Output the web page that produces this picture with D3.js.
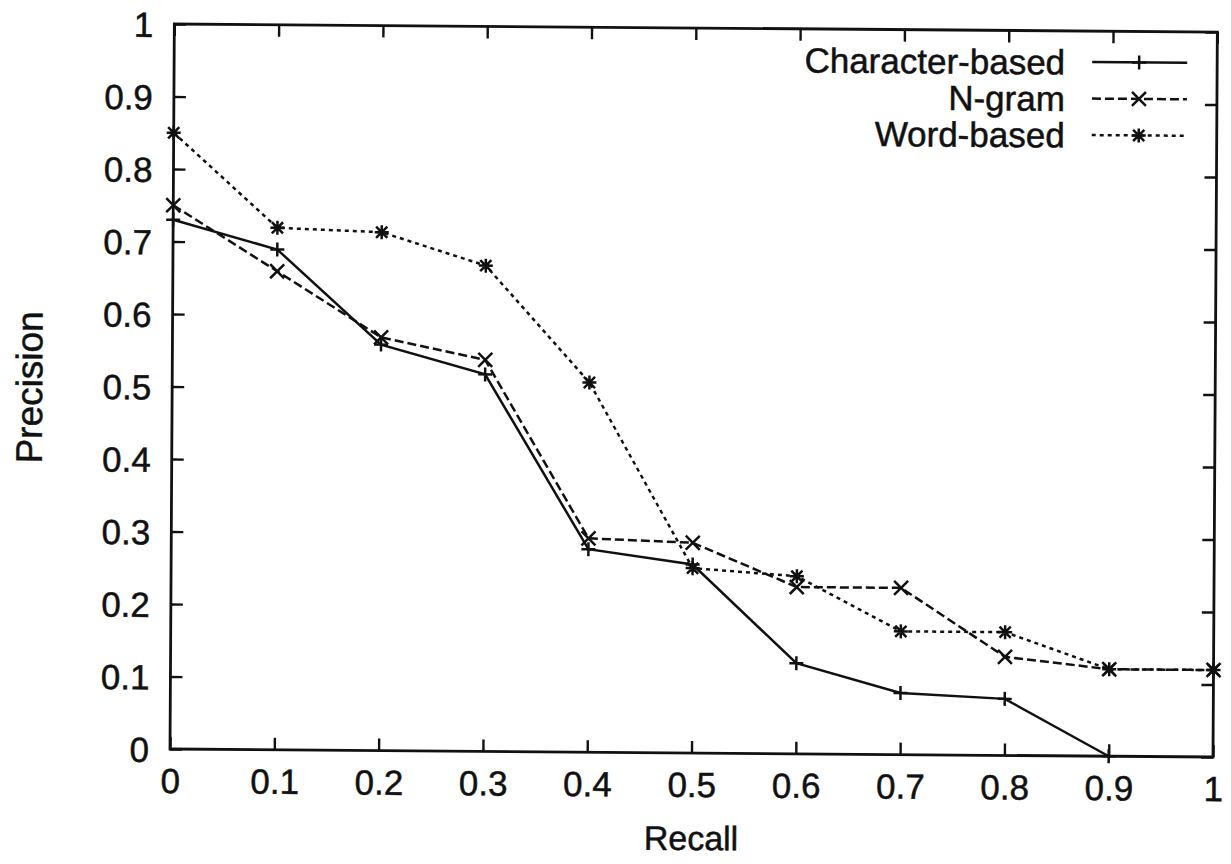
<!DOCTYPE html>
<html>
<head>
<meta charset="utf-8">
<script src="https://cdn.jsdelivr.net/npm/d3@7"></script>
<style>
  html, body { margin: 0; padding: 0; background: #fff; }
  svg { display: block; }
  text { font-family: "Liberation Sans", Arial, Helvetica, sans-serif; fill: #111; stroke: #111; stroke-width: 0.5px; }
</style>
</head>
<body>
<svg id="chart" width="1231" height="864"></svg>
<script>
// ---- data ----
const recall = [0, 0.1, 0.2, 0.3, 0.4, 0.5, 0.6, 0.7, 0.8, 0.9, 1.0];
const characterBased = [0.73, 0.69, 0.56, 0.52, 0.28, 0.26, 0.125, 0.085, 0.078, 0.0];
const nGram = [0.75, 0.66, 0.57, 0.54, 0.295, 0.29, 0.23, 0.23, 0.136, 0.12, 0.12];
const wordBased = [0.85, 0.72, 0.715, 0.67, 0.51, 0.255, 0.245, 0.17, 0.17, 0.12, 0.12];
const seriesNames = ["Character-based", "N-gram", "Word-based"];
const xTicks = [0, 0.1, 0.2, 0.3, 0.4, 0.5, 0.6, 0.7, 0.8, 0.9, 1];
const yTicks = [0, 0.1, 0.2, 0.3, 0.4, 0.5, 0.6, 0.7, 0.8, 0.9, 1];
const xTickLabels = ["0", "0.1", "0.2", "0.3", "0.4", "0.5", "0.6", "0.7", "0.8", "0.9", "1"];
const yTickLabels = ["0", "0.1", "0.2", "0.3", "0.4", "0.5", "0.6", "0.7", "0.8", "0.9", "1"];

const W = 1043, H = 725;
const svg = d3.select("#chart");
// slight skew of the scanned figure
const root = svg.append("g")
  .attr("transform", "matrix(1,0.0077,-0.006,1,170,749) translate(0,-725)");

const x = d3.scaleLinear().domain([0, 1]).range([0, W]);
const y = d3.scaleLinear().domain([0, 1]).range([H, 0]);

const ink = "#111";
const tickLen = 12;

// axes (inward ticks, mirrored)
const axBottom = root.append("g").attr("transform", `translate(0,${H})`)
  .call(d3.axisBottom(x).tickValues(xTicks).tickSize(-tickLen).tickPadding(0)
    .tickFormat((d, i) => xTickLabels[i]));
const axTop = root.append("g")
  .call(d3.axisTop(x).tickValues(xTicks).tickSize(-tickLen).tickFormat(""));
const axLeft = root.append("g")
  .call(d3.axisLeft(y).tickValues(yTicks).tickSize(-tickLen).tickPadding(0)
    .tickFormat((d, i) => yTickLabels[i]));
const axRight = root.append("g").attr("transform", `translate(${W},0)`)
  .call(d3.axisRight(y).tickValues(yTicks).tickSize(-tickLen).tickFormat(""));

[axBottom, axTop, axLeft, axRight].forEach(a => {
  a.select(".domain").remove();
  a.selectAll(".tick line").attr("stroke", ink).attr("stroke-width", 2.4);
});
axBottom.selectAll(".tick text")
  .attr("font-size", 35).attr("dy", null).attr("y", 44)
  .attr("font-family", "Liberation Sans, Arial, sans-serif").attr("fill", ink);
axLeft.selectAll(".tick text")
  .attr("font-size", 35).attr("x", -21).attr("dy", "0.36em")
  .attr("font-family", "Liberation Sans, Arial, sans-serif").attr("fill", ink);

// frame
root.append("rect").attr("x", 0).attr("y", 0).attr("width", W).attr("height", H)
  .attr("fill", "none").attr("stroke", ink).attr("stroke-width", 2.8);

// axis titles
root.append("text").attr("x", x(0.5)).attr("y", H + 97)
  .attr("text-anchor", "middle").attr("font-size", 34).text("Recall");
root.append("text")
  .attr("transform", `translate(-130,${y(0.5) + 2}) rotate(-90)`)
  .attr("text-anchor", "middle").attr("font-size", 37).text("Precision");

// markers
function marker(sel, type, s) {
  let d;
  if (type === "plus") d = `M${-s},0H${s}M0,${-s}V${s}`;
  else if (type === "cross") d = `M${-s},${-s}L${s},${s}M${-s},${s}L${s},${-s}`;
  else d = `M${-s},0H${s}M0,${-s}V${s}M${-s*0.8},${-s*0.8}L${s*0.8},${s*0.8}M${-s*0.8},${s*0.8}L${s*0.8},${-s*0.8}`;
  sel.append("path").attr("d", d).attr("stroke", ink).attr("stroke-width", 2.5).attr("fill", "none");
}

const series = [
  { name: seriesNames[0], values: characterBased, dash: null, mk: "plus", ms: 7 },
  { name: seriesNames[1], values: nGram, dash: "9,4", mk: "cross", ms: 7 },
  { name: seriesNames[2], values: wordBased, dash: "4,4", mk: "star", ms: 7 }
];

const line = d3.line().x(d => x(d[0])).y(d => y(d[1]));

series.forEach(s => {
  const pts = s.values.map((v, i) => [recall[i], v]);
  root.append("path").datum(pts).attr("d", line)
    .attr("fill", "none").attr("stroke", ink).attr("stroke-width", 2.5)
    .attr("stroke-dasharray", s.dash);
  pts.forEach(p => {
    const g = root.append("g").attr("transform", `translate(${x(p[0])},${y(p[1])})`);
    marker(g, s.mk, s.ms);
  });
});

// legend
const legend = root.append("g");
series.forEach((s, i) => {
  const ly = 31 + i * 36.5;
  legend.append("text").attr("x", 891).attr("y", ly).attr("dy", "0.36em")
    .attr("text-anchor", "end").attr("font-size", 35).text(s.name);
  legend.append("line").attr("x1", 918).attr("x2", 1013).attr("y1", ly).attr("y2", ly)
    .attr("stroke", ink).attr("stroke-width", 2.5).attr("stroke-dasharray", s.dash);
  const g = legend.append("g").attr("transform", `translate(965,${ly})`);
  marker(g, s.mk, s.ms);
});
</script>
</body>
</html>
